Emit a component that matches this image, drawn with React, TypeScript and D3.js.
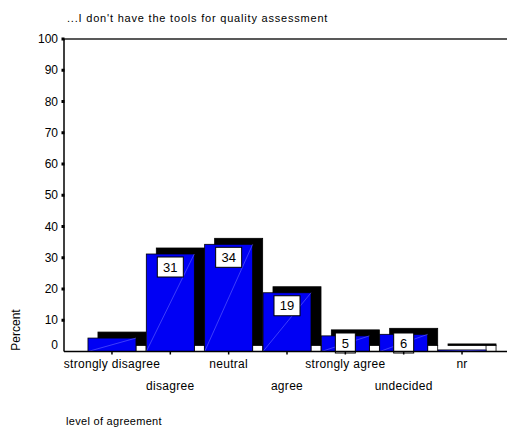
import { useEffect, useRef } from "react";
import * as d3 from "d3";

const categories = [
  "strongly disagree",
  "disagree",
  "neutral",
  "agree",
  "strongly agree",
  "undecided",
  "nr",
];
const percents = [4.3, 31.2, 34.3, 18.8, 5.0, 5.5, 0.5];
const valueLabels = ["", "31", "34", "19", "5", "6", ""];
const yTicks = [0, 10, 20, 30, 40, 50, 60, 70, 80, 90, 100];

const title = "...I don't have the tools for quality assessment";
const W = 507;
const H = 427;
const font = "Arial, 'Liberation Sans', sans-serif";

export default function App() {
  const svgRef = useRef<SVGSVGElement>(null);

  useEffect(() => {
    if (!svgRef.current) return;
    const svg = d3.select(svgRef.current);
    svg.selectAll("*").remove();

    const left = 64;
    const right = W;
    const top = 39;
    const bottom = 351.5;
    const depthX = 10;
    const depthY = 6;

    const x = d3
      .scaleBand<string>()
      .domain(categories)
      .range([82.8, 491.2])
      .paddingInner(0.177)
      .paddingOuter(0.0885);

    const y = d3.scaleLinear().domain([0, 100]).range([bottom, top]);

    // Title
    svg
      .append("text")
      .attr("x", 67)
      .attr("y", 22)
      .attr("font-family", font)
      .attr("font-size", 11)
      .attr("letter-spacing", 0.8)
      .attr("fill", "#000")
      .text(title);

    // Frame: top line
    svg
      .append("line")
      .attr("x1", left)
      .attr("x2", right)
      .attr("y1", top)
      .attr("y2", top)
      .attr("stroke", "#222")
      .attr("stroke-width", 1.6);

    const bw = x.bandwidth();

    const bars = svg
      .append("g")
      .selectAll("g")
      .data(categories.map((c, i) => ({ c, v: percents[i], label: valueLabels[i] })))
      .join("g");

    // back face, offset up and to the right
    bars
      .append("rect")
      .attr("x", (d) => x(d.c)! + depthX)
      .attr("y", (d) => y(d.v) - depthY)
      .attr("width", bw)
      .attr("height", (d) => bottom - y(d.v))
      .attr("fill", "#000")
      .attr("stroke", "#000")
      .attr("stroke-width", 0.8);

    // floor gap behind each bar
    bars
      .append("rect")
      .attr("x", (d) => x(d.c)! + bw)
      .attr("y", bottom - depthY)
      .attr("width", depthX)
      .attr("height", depthY)
      .attr("fill", "#fff")
      .attr("stroke", "#000")
      .attr("stroke-width", 0.8);

    // front face
    bars
      .append("rect")
      .attr("x", (d) => x(d.c)!)
      .attr("y", (d) => y(d.v))
      .attr("width", bw)
      .attr("height", (d) => bottom - y(d.v))
      .attr("fill", "#0000f4")
      .attr("stroke", "#000")
      .attr("stroke-width", 0.8);

    // faint diagonal on the front face
    bars
      .append("line")
      .attr("x1", (d) => x(d.c)!)
      .attr("y1", bottom)
      .attr("x2", (d) => x(d.c)! + bw)
      .attr("y2", (d) => y(d.v))
      .attr("stroke", "#7a7aff")
      .attr("stroke-width", 0.5);

    // value labels
    const lab = bars.filter((d) => d.label !== "");
    const boxTop = (v: number) => Math.min(y(v) + 3, 333);
    lab
      .append("rect")
      .attr("x", (d) => x(d.c)! + bw / 2 - (d.label.length > 1 ? 13 : 10))
      .attr("y", (d) => boxTop(d.v))
      .attr("width", (d) => (d.label.length > 1 ? 26 : 20))
      .attr("height", 20)
      .attr("fill", "#fff")
      .attr("stroke", "#000")
      .attr("stroke-width", 1);
    lab
      .append("text")
      .attr("x", (d) => x(d.c)! + bw / 2)
      .attr("y", (d) => boxTop(d.v) + 10)
      .attr("dy", "0.35em")
      .attr("text-anchor", "middle")
      .attr("font-family", font)
      .attr("font-size", 13)
      .attr("fill", "#000")
      .text((d) => d.label);

    // X axis line
    svg
      .append("line")
      .attr("x1", left)
      .attr("x2", right)
      .attr("y1", bottom)
      .attr("y2", bottom)
      .attr("stroke", "#000")
      .attr("stroke-width", 1.5);

    // X ticks and labels
    const xg = svg.append("g");
    xg.selectAll("line")
      .data(categories)
      .join("line")
      .attr("x1", (d) => x(d)! + bw / 2)
      .attr("x2", (d) => x(d)! + bw / 2)
      .attr("y1", bottom)
      .attr("y2", bottom + 3)
      .attr("stroke", "#000")
      .attr("stroke-width", 1.5);
    xg.selectAll("text")
      .data(categories)
      .join("text")
      .attr("x", (d) => x(d)! + bw / 2)
      .attr("y", (_, i) => (i % 2 === 0 ? 364 : 386))
      .attr("dy", "0.35em")
      .attr("text-anchor", "middle")
      .attr("font-family", font)
      .attr("font-size", 12)
      .attr("letter-spacing", 0.3)
      .attr("fill", "#000")
      .text((d) => d);

    // Y axis
    svg
      .append("line")
      .attr("x1", left)
      .attr("x2", left)
      .attr("y1", top)
      .attr("y2", bottom)
      .attr("stroke", "#000")
      .attr("stroke-width", 1.5);
    const yg = svg.append("g");
    yg.selectAll("rect")
      .data(yTicks.filter((t) => t > 0))
      .join("rect")
      .attr("x", left - 2.5)
      .attr("y", (d) => y(d) - 1.5)
      .attr("width", 3)
      .attr("height", 3)
      .attr("fill", "#000");
    yg.selectAll("text")
      .data(yTicks)
      .join("text")
      .attr("x", 58)
      .attr("y", (d) => (d === 0 ? y(d) - 7 : y(d)))
      .attr("dy", "0.35em")
      .attr("text-anchor", "end")
      .attr("font-family", font)
      .attr("font-size", 12)
      .attr("fill", "#000")
      .text((d) => String(d));

    // Axis titles
    svg
      .append("text")
      .attr("transform", "translate(16,330) rotate(-90)")
      .attr("dy", "0.35em")
      .attr("text-anchor", "middle")
      .attr("font-family", font)
      .attr("font-size", 12)
      .attr("fill", "#000")
      .text("Percent");

    svg
      .append("text")
      .attr("x", 66)
      .attr("y", 421)
      .attr("dy", "0.35em")
      .attr("font-family", font)
      .attr("font-size", 11)
      .attr("letter-spacing", 0.3)
      .attr("fill", "#000")
      .text("level of agreement");
  }, []);

  return (
    <svg
      ref={svgRef}
      width={W}
      height={H}
      viewBox={`0 0 ${W} ${H}`}
      style={{ position: "absolute", left: 0, top: 0, background: "#fff" }}
    />
  );
}
